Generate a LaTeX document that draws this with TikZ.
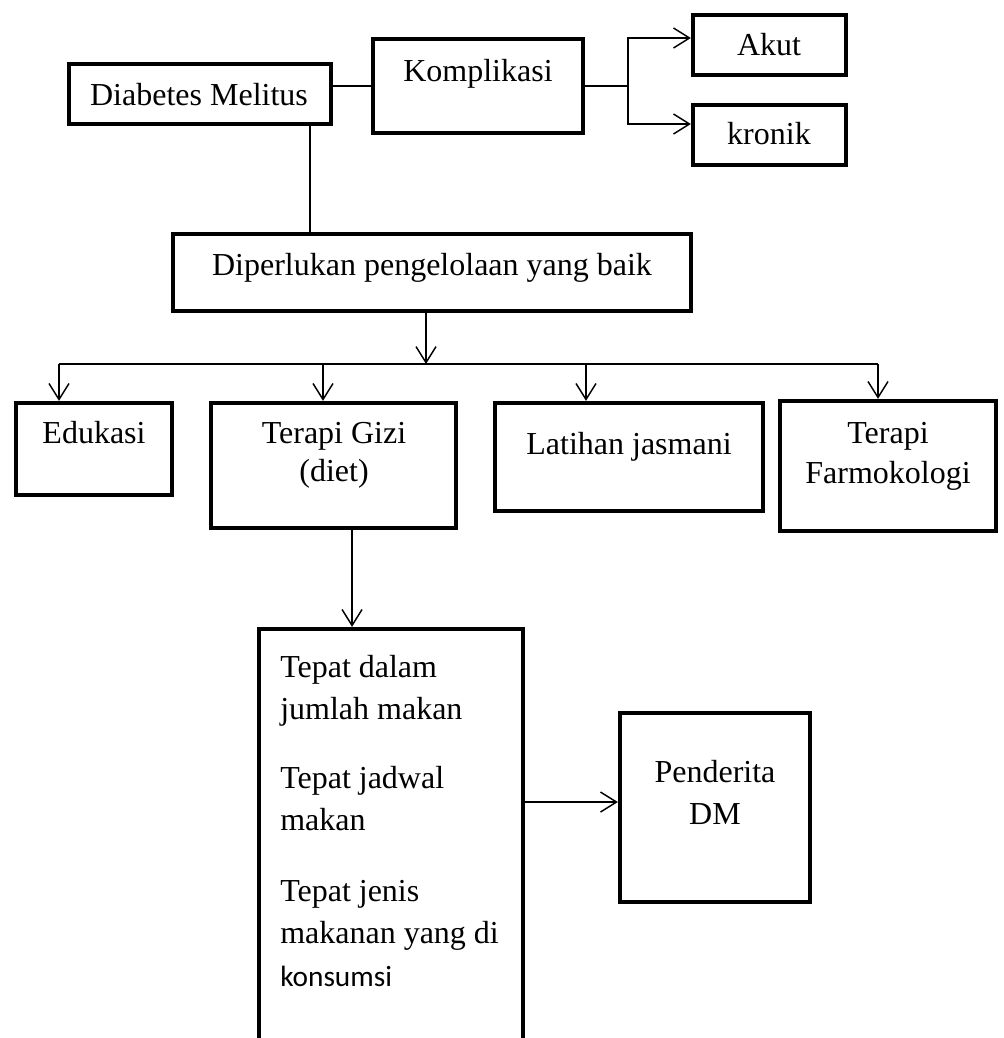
\documentclass[tikz,border=0pt]{standalone}
\usepackage{fontspec}
\setmainfont{Liberation Serif}
\newfontfamily\calibrifont{Carlito}
\usetikzlibrary{arrows.meta}
\tikzset{
  box/.style={draw, line width=3.2pt, inner sep=0pt},
  lbl/.style={anchor=base, inner sep=0pt, font=\fontsize{24}{28}\selectfont},
  lbll/.style={anchor=base west, inner sep=0pt, font=\fontsize{24}{28}\selectfont},
  conn/.style={line width=1.1pt},
  arr/.style={conn, -{Straight Barb[length=12pt,width=15pt]}},
}
\begin{document}
\begin{tikzpicture}[x=0.75pt,y=-0.75pt]
\useasboundingbox (0,0) rectangle (1003,1038);
\clip (0,0) rectangle (1003,1038);
% boxes
\node[box, minimum width=196.5pt, minimum height=45pt] (dm) at (200,94) {};
\node[box, minimum width=157.5pt, minimum height=70.5pt] (kom) at (478,86) {};
\node[box, minimum width=114.75pt, minimum height=45pt] (akut) at (769.5,45) {};
\node[box, minimum width=114.75pt, minimum height=45pt] (kronik) at (769.5,135) {};
\node[box, minimum width=388.5pt, minimum height=57.75pt] (dip) at (432,272.5) {};
\node[box, minimum width=117pt, minimum height=69pt] (edu) at (94,449) {};
\node[box, minimum width=183.75pt, minimum height=93.75pt] (gizi) at (333.5,465.5) {};
\node[box, minimum width=201pt, minimum height=81pt] (lat) at (629,457) {};
\node[box, minimum width=162pt, minimum height=97.5pt] (farm) at (888,466) {};
\node[box, minimum width=198pt, minimum height=353.25pt] (tepat) at (391,864.5) {};
\node[box, minimum width=142.5pt, minimum height=141.75pt] (pend) at (715,807.5) {};
% texts
\node[lbl] (tdm) at (199,106) {Diabetes Melitus};
\node[lbl] (tkom) at (478,82) {Komplikasi};
\node[lbl] (takut) at (769,56) {Akut};
\node[lbl] (tkro) at (769,145) {kronik};
\node[lbl] (tdip) at (432,275) {Diperlukan pengelolaan yang baik};
\node[lbl] (tedu) at (94,443) {Edukasi};
\node[lbl] (tgz1) at (334,443) {Terapi Gizi};
\node[lbl] (tgz2) at (334,481) {(diet)};
\node[lbl] (tlat) at (629,454) {Latihan jasmani};
\node[lbl] (tf1) at (888,443) {Terapi};
\node[lbl] (tf2) at (888,483) {Farmokologi};
\node[lbll] (tt1) at (280,677) {Tepat dalam};
\node[lbll] (tt2) at (280,719) {jumlah makan};
\node[lbll] (tt3) at (280,788) {Tepat jadwal};
\node[lbll] (tt4) at (280,830) {makan};
\node[lbll] (tt5) at (280,901) {Tepat jenis};
\node[lbll] (tt6) at (280,943) {makanan yang di};
\node[lbll, font=\calibrifont\fontsize{22}{26}\selectfont] (tt7) at (280,986) {konsumsi};
\node[lbl] (tp1) at (715,782) {Penderita};
\node[lbl] (tp2) at (715,824) {DM};
% connectors
\draw[conn] (kom.west) -- (kom.west -| dm.east);
\coordinate (dmx) at ([xshift=82.5pt]dm.south);
\draw[conn] (dmx) -- (dmx |- dip.north);
\coordinate (kj) at (628,86);
\draw[conn] (kom.east) -- (kj);
\draw[arr] (kj) |- ([yshift=5.25pt]akut.west);
\draw[arr] (kj) |- ([yshift=8.25pt]kronik.west);
\coordinate (b1) at (59,364);
\coordinate (b2) at (323,364);
\coordinate (b3) at (586,364);
\coordinate (b4) at (878,364);
\coordinate (dpx) at ([xshift=-4.5pt]dip.south);
\draw[arr] (dpx) -- (dpx |- b1);
\draw[conn] (b1) -- (b4);
\draw[arr] (b1) -- (b1 |- edu.north);
\draw[arr] (b2) -- (b2 |- gizi.north);
\draw[arr] (b3) -- (b3 |- lat.north);
\draw[arr] (b4) -- (b4 |- farm.north);
\coordinate (gzx) at ([xshift=13.9pt]gizi.south);
\draw[arr] (gzx) -- (gzx |- tepat.north);
\coordinate (pw) at ([yshift=4.1pt]pend.west);
\draw[arr] (pw -| tepat.east) -- (pw);
\end{tikzpicture}
\end{document}
